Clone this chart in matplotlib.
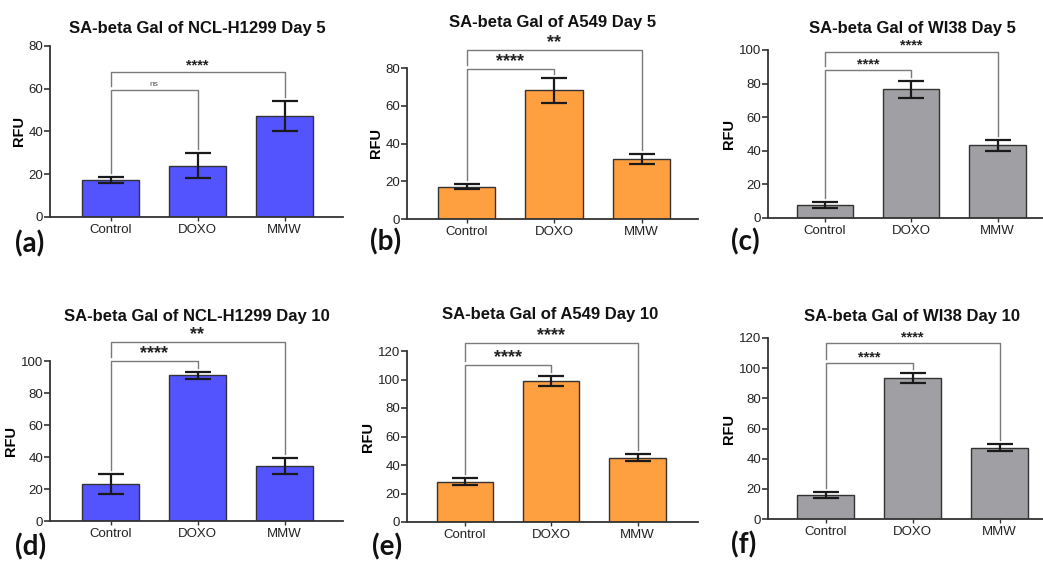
import matplotlib
matplotlib.use("Agg")
import matplotlib.pyplot as plt
import numpy as np

plt.rcParams['font.family'] = ['Liberation Sans', 'DejaVu Sans']

categories = ["Control", "DOXO", "MMW"]

titles = ["SA-beta Gal of NCL-H1299 Day 5", "SA-beta Gal of A549 Day 5", "SA-beta Gal of WI38 Day 5",
          "SA-beta Gal of NCL-H1299 Day 10", "SA-beta Gal of A549 Day 10", "SA-beta Gal of WI38 Day 10"]
panel_labels = ["(a)", "(b)", "(c)", "(d)", "(e)", "(f)"]

# means and errors (RFU)
means_a = [17.5, 24.0, 47.4]; err_a = [1.4, 5.9, 7.0]
means_b = [17.2, 68.2, 31.7]; err_b = [1.3, 6.5, 2.8]
means_c = [7.6, 76.6, 43.2]; err_c = [1.8, 5.2, 3.2]
means_d = [23.3, 91.2, 34.3]; err_d = [6.2, 2.2, 5.0]
means_e = [28.3, 98.8, 45.2]; err_e = [2.6, 3.7, 2.4]
means_f = [15.7, 93.4, 47.2]; err_f = [2.0, 3.2, 2.4]
means = [means_a, means_b, means_c, means_d, means_e, means_f]
errs = [err_a, err_b, err_c, err_d, err_e, err_f]

y_max = [80, 80, 100, 100, 120, 120]
y_step = [20, 20, 20, 20, 20, 20]

# significance: (lower bracket Control-DOXO, upper bracket Control-MMW)
sig_low = ["ns", "****", "****", "****", "****", "****"]
sig_high = ["****", "**", "****", "**", "****", "****"]
br_low = [59.4, 79.6, 88.0, 99.8, 110.0, 103.4]
br_high = [68.0, 89.6, 99.0, 111.9, 125.4, 116.7]

colors = ["#5454FF", "#FFA040", "#A0A0A4", "#5454FF", "#FFA040", "#A0A0A4"]

W, H = 1043, 562
# axes placement in pixels: (left x, right x, y of zero, y of ymax)
ax_px = [(50, 343, 217, 46), (407, 698, 219, 68), (768, 1043, 218, 50),
         (50, 343, 521, 361), (407, 698, 522, 351), (768, 1043, 519, 338)]
# bar centre pixels for first bar and spacing
bar0 = [110.5, 466.5, 825, 110.5, 465, 825.5]
spacing = [87, 87.5, 86.25, 87, 86.25, 87]
title_px = [(197, 28), (553, 23), (912, 28), (197, 316), (550, 314), (912, 317)]
label_px = [(15, 252), (370, 250), (731, 250), (15, 555), (372, 555), (731, 553)]
star_size = [10.5, 13, 10.5, 13, 13, 10.5]

fig = plt.figure(figsize=(W / 100, H / 100), dpi=100)

for i in range(6):
    xl, xr, y0, yt = ax_px[i]
    ax = fig.add_axes([xl / W, 1 - y0 / H, (xr - xl) / W, (y0 - yt) / H])
    sp = spacing[i]
    left = (xl - bar0[i]) / sp
    right = (xr - bar0[i]) / sp
    x = np.arange(3)
    ax.bar(x, means[i], width=0.655, color=colors[i], edgecolor="#333333", linewidth=1.0, zorder=2)
    ax.errorbar(x, means[i], yerr=errs[i], fmt='none', ecolor="#1a1a1a", elinewidth=1.6,
                capsize=9.5, capthick=1.6, zorder=3)
    ax.set_xlim(left, right)
    ax.set_ylim(0, y_max[i])
    ax.set_yticks(np.arange(0, y_max[i] + 1, y_step[i]))
    ax.set_xticks(x)
    ax.set_xticklabels(categories)
    for s in ["top", "right"]:
        ax.spines[s].set_visible(False)
    for s in ["left", "bottom"]:
        ax.spines[s].set_color("#333333")
        ax.spines[s].set_linewidth(1.3)
    ax.tick_params(axis='y', length=4, width=1.2, color="#333333", labelsize=9.5, pad=1, labelcolor="#222222")
    ax.tick_params(axis='x', length=3, width=1.0, color="#333333", labelsize=9.5, pad=2, labelcolor="#222222")
    ax.set_ylabel("RFU", fontsize=10.5, fontweight='bold', labelpad=2)
    ax.patch.set_alpha(0)

    # brackets
    dpp = y_max[i] / (y0 - yt)  # data units per pixel
    gap = 4 * dpp
    top = [m + e for m, e in zip(means[i], errs[i])]
    lc = "#7a7a7a"
    lw = 1.0
    # lower bracket Control-DOXO
    yl = br_low[i]
    ax.plot([0, 0, 1, 1], [top[0] + gap, yl, yl, top[1] + gap], color=lc, lw=lw, clip_on=False, zorder=1)
    # upper bracket Control-MMW
    yh = br_high[i]
    ax.plot([0, 0, 2, 2], [yl + gap, yh, yh, top[2] + gap], color=lc, lw=lw, clip_on=False, zorder=1)
    if sig_low[i] == "ns":
        ax.text(0.5, yl + 2 * dpp, "ns", ha='center', va='bottom', fontsize=6, color="#555555", clip_on=False)
    else:
        ax.text(0.5, yl - 1 * dpp, sig_low[i], ha='center', va='bottom', fontsize=star_size[i],
                color="#222222", fontweight='bold', clip_on=False)
    ax.text(1.0, yh - 1 * dpp, sig_high[i], ha='center', va='bottom', fontsize=star_size[i],
            color="#222222", fontweight='bold', clip_on=False)

    tx, ty = title_px[i]
    fig.text(tx / W, 1 - ty / H, titles[i], ha='center', va='center', fontsize=12, fontweight='bold', color="#111111")
    lx, ly = label_px[i]
    fig.text(lx / W, 1 - ly / H, panel_labels[i], ha='left', va='baseline', fontsize=20,
             fontweight='bold', family=['Lato', 'DejaVu Sans'], color="#111111")

fig.savefig("out.png", dpi=100)
